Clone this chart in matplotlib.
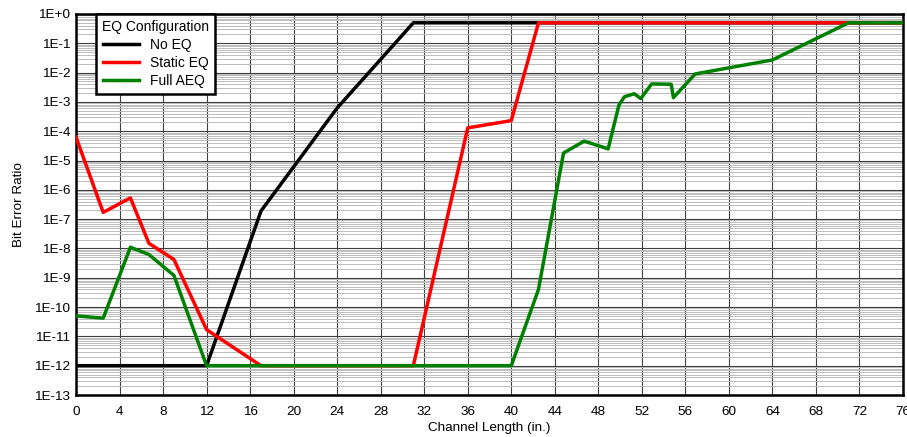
import matplotlib
matplotlib.use("Agg")
import matplotlib.pyplot as plt
from matplotlib.ticker import LogLocator, FixedLocator, NullFormatter

plt.rcParams['font.family'] = ['Liberation Sans', 'DejaVu Sans']

# data
no_eq_x = [0, 12, 17, 24, 31, 76]
no_eq_y = [1e-12, 1e-12, 1.9e-7, 6.2e-4, 0.5, 0.5]

static_x = [0, 2.5, 5, 6.7, 9, 12, 17, 31, 36, 40, 42.5, 76]
static_y = [6.3e-5, 1.7e-7, 5.3e-7, 1.5e-8, 4.2e-9, 1.7e-11, 1e-12, 1e-12,
            1.3e-4, 2.3e-4, 0.5, 0.5]

full_x = [0, 2.5, 5, 6.7, 9, 12, 40, 42.5, 44.8, 46.7, 48.9, 49.9, 50.4,
          51.3, 51.9, 52.9, 54.7, 54.9, 56.9, 64, 71, 76]
full_y = [5e-11, 4.2e-11, 1.1e-8, 6.2e-9, 1.2e-9, 1e-12, 1e-12, 4e-10,
          1.8e-5, 4.6e-5, 2.5e-5, 7.9e-4, 1.5e-3, 1.9e-3, 1.3e-3, 4.1e-3,
          4.0e-3, 1.4e-3, 9e-3, 2.7e-2, 0.5, 0.5]

x_ticks = list(range(0, 77, 4))
y_ticks = [10.0 ** -k for k in range(0, 14)]
y_labels = ["1E+0"] + ["1E-%d" % k for k in range(1, 14)]

fig = plt.figure(figsize=(9.07, 4.37), dpi=100)
ax = fig.add_axes([0.0838, 0.0961, 0.9118, 0.8719])

ax.plot(no_eq_x, no_eq_y, color="black", lw=2.5, label="No EQ", zorder=3)
ax.plot(static_x, static_y, color="#ff0000", lw=2.5, label="Static EQ", zorder=4)
ax.plot(full_x, full_y, color="#008000", lw=2.5, label="Full AEQ", zorder=5)

ax.set_yscale("log")
ax.set_xlim(0, 76)
ax.set_ylim(1e-13, 1)
ax.xaxis.set_major_locator(FixedLocator(x_ticks))
ax.yaxis.set_major_locator(FixedLocator(y_ticks))
ax.set_yticklabels(y_labels)
ax.yaxis.set_minor_locator(LogLocator(base=10, subs=[2, 3, 4, 5, 6, 7, 8, 9], numticks=50))
ax.yaxis.set_minor_formatter(NullFormatter())

ax.grid(True, which="major", color="#404040", lw=0.8)
ax.grid(True, which="minor", axis="y", color="#bcbcbc", lw=0.7)
ax.tick_params(which="both", length=0, labelsize=9.7)
ax.tick_params(axis="x", pad=8)
ax.tick_params(axis="y", pad=4)

for s in ax.spines.values():
    s.set_linewidth(1.8)

ax.set_xlabel("Channel Length (in.)", fontsize=9.7, labelpad=3)
ax.set_ylabel("Bit Error Ratio", fontsize=9.7, labelpad=7)

leg = ax.legend(title="EQ Configuration", loc="upper left",
                bbox_to_anchor=(0.024, 1.0), fancybox=False, framealpha=1,
                edgecolor="black", fontsize=10, title_fontsize=10,
                handlelength=2.6, borderpad=0.45, labelspacing=0.28,
                handletextpad=0.8, borderaxespad=0)
leg.get_frame().set_linewidth(1.8)
leg.set_zorder(10)

fig.savefig("out.png", dpi=100)
